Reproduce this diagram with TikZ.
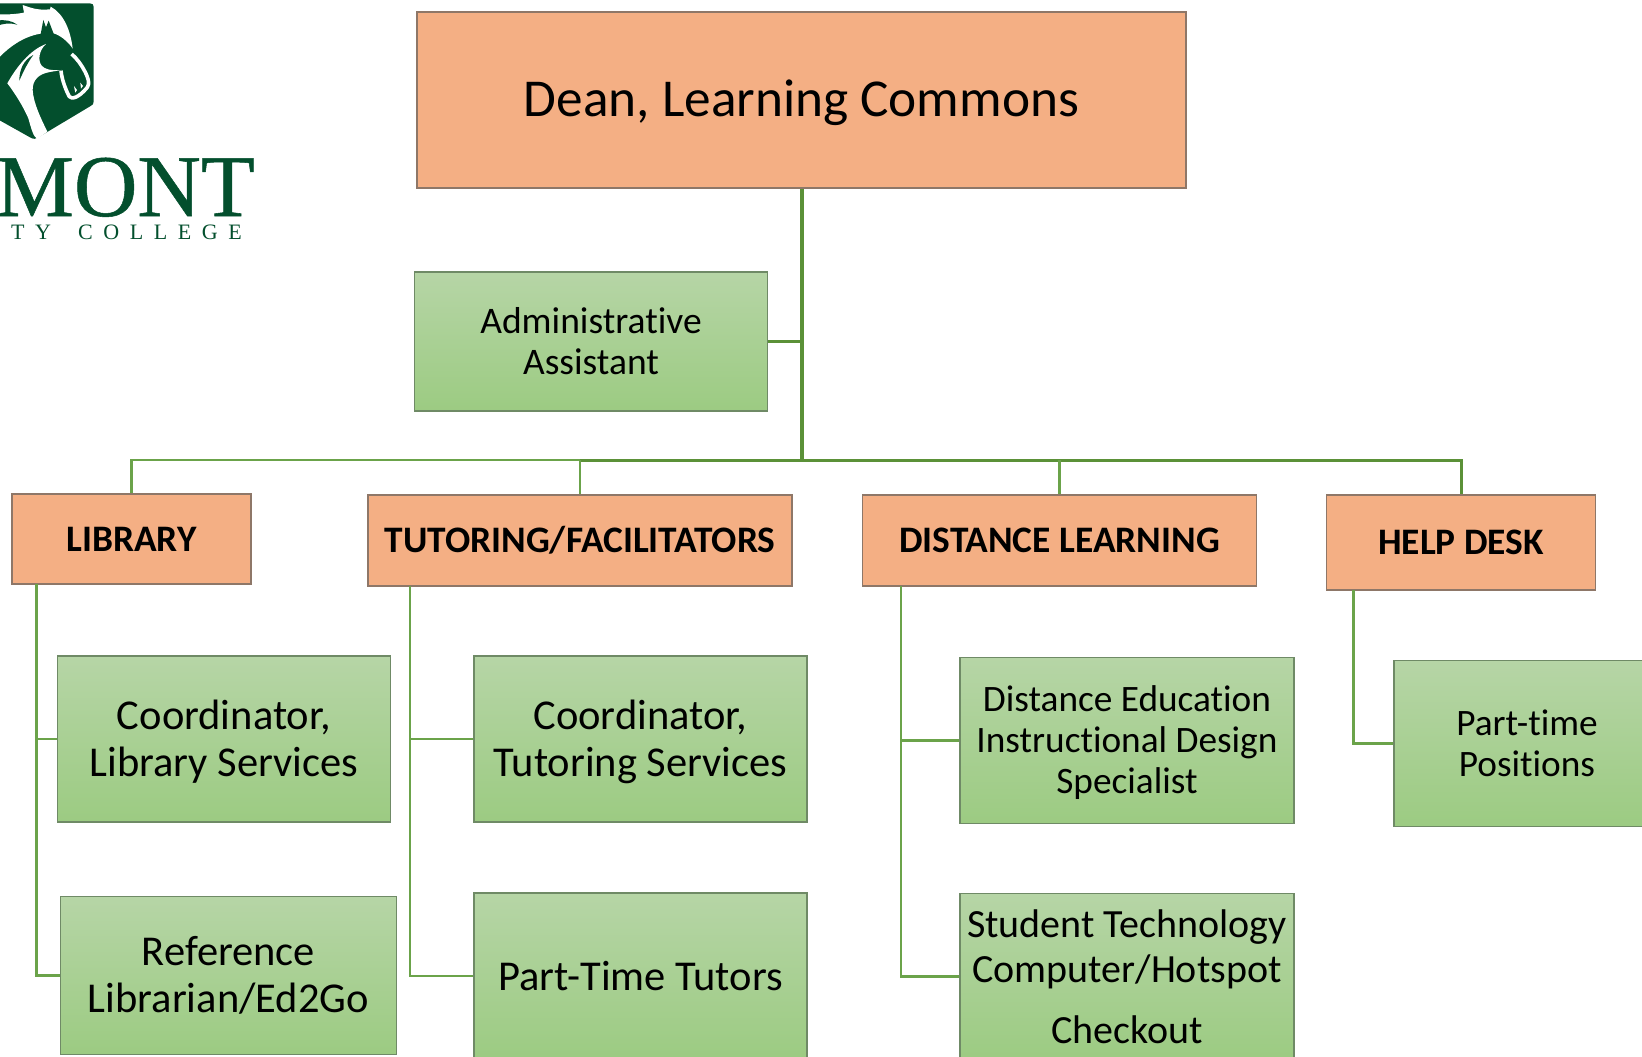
\documentclass[tikz,border=0pt]{standalone}
\usepackage{fontspec}
\setmainfont[Ligatures=NoCommon]{Carlito}
\newfontfamily\logofont{Liberation Serif}
\definecolor{orangefill}{HTML}{F4AF84}
\definecolor{orangeline}{HTML}{8E7768}
\definecolor{greentop}{HTML}{B6D5A6}
\definecolor{greenbot}{HTML}{9CCB82}
\definecolor{greenline}{HTML}{6F8A66}
\definecolor{conn}{HTML}{5B9138}
\definecolor{connlight}{HTML}{6BA34A}
\definecolor{logogreen}{HTML}{034F2D}
\newcommand{\fs}[1]{\fontsize{#1}{#1}\selectfont}
\newcommand{\dn}[2]{\raisebox{-#1}[\height][\depth]{#2}}
\tikzset{
  x=1pt,y=-1pt,
  obox/.style={draw=orangeline,line width=1.2pt,fill=orangefill,inner sep=0pt,align=center,text=black},
  gbox/.style={draw=greenline,line width=1.2pt,top color=greentop,bottom color=greenbot,inner sep=0pt,align=center,text=black},
  trunk/.style={draw=conn,line width=4pt},
  branch/.style={draw=conn,line width=3pt},
  thinbranch/.style={draw=connlight,line width=2.6pt},
  child/.style={draw=connlight,line width=2.4pt},
  headtxt/.style={font=\fs{37.4}\bfseries},
}
\begin{document}
\begin{tikzpicture}
\useasboundingbox (0,0) rectangle (1642,1057);
\clip (0,0) rectangle (1642,1057);
% logo
\begin{scope}[x=0.3333pt,y=-0.3333pt]
\fill[logogreen] (-10,10) -- (270,10) .. controls (277,10) and (281,14) .. (281,20) -- (281,305) .. controls (281,312) and (278,315) .. (272,318) -- (115,412) .. controls (108,418) and (100,418) .. (90,412) -- (-10,356) -- cycle;
\fill[white] (-10,42) .. controls (20,45) and (50,42) .. (72,38) -- (68,15) .. controls (90,22) and (110,32) .. (150,28) -- (152,20) .. controls (190,40) and (212,90) .. (218,146) .. controls (205,125) and (180,105) .. (160,100) .. controls (110,95) and (50,115) .. (-10,180) -- cycle;
\fill[logogreen] (-10,62) .. controls (15,58) and (35,62) .. (52,74) .. controls (30,68) and (10,70) .. (-10,78) -- cycle;
\fill[logogreen] (122,103) -- (130,60) -- (138,82) -- (146,62) -- (162,104) -- cycle;
\fill[white] (22,250) .. controls (50,200) and (90,150) .. (138,132) .. controls (118,150) and (112,180) .. (125,197) .. controls (135,208) and (150,212) .. (185,210) -- (150,216) .. controls (115,222) and (98,240) .. (98,270) .. controls (100,310) and (125,360) .. (142,395) -- (112,417) .. controls (100,410) and (95,390) .. (85,355) .. controls (70,320) and (45,280) .. (22,250) -- cycle;
\fill[logogreen] (58,242) .. controls (58,210) and (70,180) .. (100,165) .. controls (85,185) and (72,210) .. (58,242) -- cycle;
\draw[white,line width=3.6pt,line join=round] (183,212) .. controls (185,235) and (195,265) .. (208,290) .. controls (215,298) and (235,295) .. (262,262) .. controls (270,250) and (265,235) .. (255,215) .. controls (245,195) and (230,175) .. (215,162);
\fill[white] (222,258) -- (226,278) -- (231,270) -- cycle;
\fill[white] (241,248) -- (243,266) -- (249,258) -- cycle;
\end{scope}
\node[anchor=base east,inner sep=0pt,text=logogreen,text height=58pt,text depth=0pt,font=\logofont\fs{88}\addfontfeature{FakeBold=0.6}] (logoa) at (255,216) {DMONT};
\node[anchor=base west,inner sep=0pt,text=logogreen,text height=15pt,text depth=0pt,font=\logofont\fs{22}\addfontfeature{LetterSpace=48}] (logob) at (11,239) {TY \hspace{11pt}COLLEGE};
% nodes
\node[obox,minimum width=769pt,minimum height=176pt,font=\fs{53.3}] (dean) at (801.5,100) {\dn{3pt}{Dean, Learning Commons}};
\node[gbox,minimum width=353pt,minimum height=139pt,font=\fs{37.5}] (admin) at (591,341.5) {Administrative\\[3.5pt]Assistant};
\node[obox,minimum width=239pt,minimum height=90pt,headtxt] (lib) at (131.5,539) {LIBRARY};
\node[obox,minimum width=424pt,minimum height=91pt,headtxt] (tut) at (580,540.5) {TUTORING/FACILITATORS};
\node[obox,minimum width=394pt,minimum height=91pt,headtxt] (dist) at (1059.5,540.5) {DISTANCE LEARNING};
\node[obox,minimum width=269pt,minimum height=95pt,headtxt] (help) at (1461,542.5) {HELP DESK};
\node[gbox,minimum width=333pt,minimum height=166pt,font=\fs{42.5}] (clib) at (224,739) {\dn{3pt}{Coordinator,}\\[4.5pt]\dn{2.5pt}{Library Services}};
\node[gbox,minimum width=336pt,minimum height=158pt,font=\fs{42.5}] (ref) at (228.5,975.5) {Reference\\[4.5pt]Librarian/Ed2Go};
\node[gbox,minimum width=333pt,minimum height=166pt,font=\fs{42.5}] (ctut) at (640.5,739) {\dn{3pt}{Coordinator,}\\[4.5pt]\dn{3pt}{Tutoring Services}};
\node[gbox,minimum width=333pt,minimum height=166pt,font=\fs{42.5}] (ptt) at (640.5,976) {Part-Time Tutors};
\node[gbox,minimum width=334pt,minimum height=166pt,font=\fs{37.3}] (de) at (1127,740.5) {\dn{2pt}{Distance Education}\\[3.7pt]\dn{2pt}{Instructional Design}\\[3.7pt]\dn{2pt}{Specialist}};
\node[gbox,minimum width=334pt,minimum height=166pt,font=\fs{40}] (stu) at (1127,976.5) {Student Technology\\[5pt]Computer/Hotspot\\[21pt]Checkout};
\node[gbox,minimum width=266pt,minimum height=166pt,font=\fs{37.3}] (pt) at (1527,743.5) {Part-time\\[3.7pt]Positions};
% connectors
\coordinate (hub) at (dean.south |- 0,460);
\draw[trunk] (dean.south) -- (hub);
\draw[branch,line cap=rect] (hub) -- (hub -| tut.north);
\draw[branch] (hub) -| (help.north);
\draw[thinbranch] (hub -| dist.north) -- (dist.north);
\draw[thinbranch] (hub -| tut.north) -- (tut.north);
\draw[thinbranch] (hub -| tut.north) -| (lib.north);
\draw[branch] (admin.east) -- (admin.east -| dean.south);
\coordinate (libdrop) at (36.5,584);
\coordinate (tutdrop) at (410,586);
\coordinate (distdrop) at (901,586);
\coordinate (helpdrop) at (1353.5,590);
\draw[child] (libdrop) |- (clib.west);
\draw[child] (libdrop) |- (ref.west);
\draw[child] (tutdrop) |- (ctut.west);
\draw[child] (tutdrop) |- (ptt.west);
\draw[child] (distdrop) |- (de.west);
\draw[child] (distdrop) |- (stu.west);
\draw[child] (helpdrop) |- (pt.west);
\end{tikzpicture}
\end{document}
